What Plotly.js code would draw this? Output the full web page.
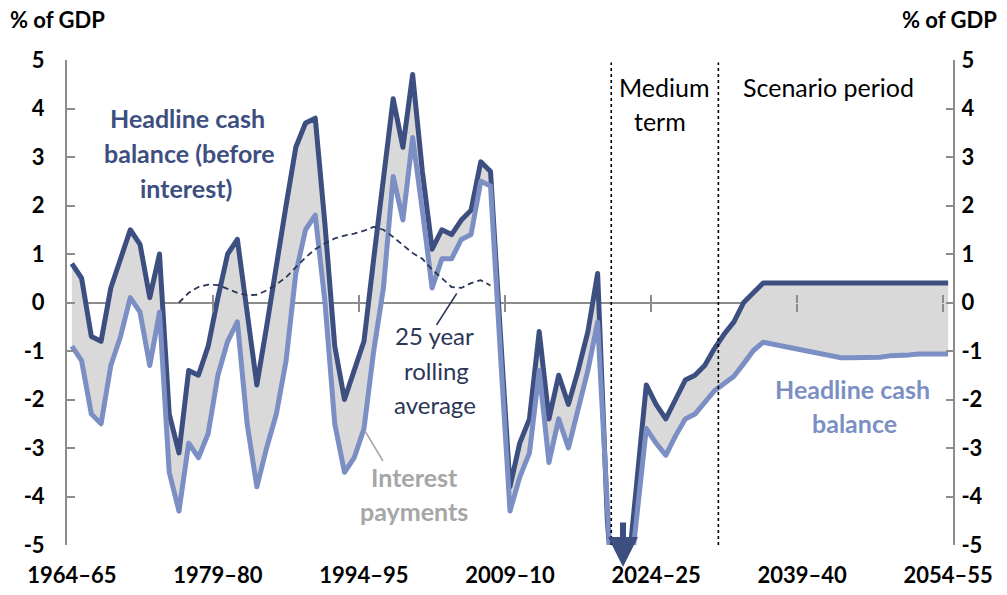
<!DOCTYPE html>
<html>
<head>
<meta charset="utf-8">
<script src="https://cdn.plot.ly/plotly-3.0.1.min.js"></script>
<style>
html,body{margin:0;padding:0;background:#fff;}
#chart{width:1007px;height:595px;}
.js-line{stroke-linejoin:round !important;}
</style>
</head>
<body>
<div id="chart"></div>
<script>
// Financial years 1964–65 ... 2054–55 (x = starting calendar year)
const years = Array.from({length: 91}, (_, i) => 1964 + i);

// Headline cash balance before interest (% of GDP)
const beforeInterest = [
  0.8, 0.5, -0.7, -0.8, 0.3, 0.9, 1.5, 1.2, 0.1, 1.0,
  -2.3, -3.1, -1.4, -1.5, -0.9, 0.1, 1.0, 1.3, -0.2, -1.7,
  -0.5, 0.8, 2.0, 3.2, 3.7, 3.8, 1.6, -0.9, -2.0, -1.4,
  -0.8, 0.9, 2.5, 4.2, 3.2, 4.7, 2.7, 1.1, 1.5, 1.4,
  1.7, 1.9, 2.9, 2.7, -0.6, -3.8, -2.9, -2.4, -0.6, -2.4,
  -1.5, -2.1, -1.4, -0.6, 0.6, -4.5, -7.0, -5.8, -3.75, -1.7,
  -2.1, -2.4, -2.0, -1.6, -1.5, -1.3, -0.95, -0.65, -0.4, 0.0,
  0.2, 0.4, 0.4, 0.4, 0.4, 0.4, 0.4, 0.4, 0.4, 0.4,
  0.4, 0.4, 0.4, 0.4, 0.4, 0.4, 0.4, 0.4, 0.4, 0.4,
  0.4
];

// Headline cash balance (% of GDP)
const headline = [
  -0.9, -1.2, -2.3, -2.5, -1.3, -0.7, 0.1, -0.2, -1.3, -0.2,
  -3.5, -4.3, -2.9, -3.2, -2.7, -1.5, -0.8, -0.4, -2.5, -3.8,
  -3.0, -2.3, -1.2, 0.6, 1.5, 1.8, 0.0, -2.5, -3.5, -3.2,
  -2.6, -1.0, 0.3, 2.6, 1.7, 3.4, 1.9, 0.3, 0.9, 0.9,
  1.3, 1.4, 2.5, 2.4, -1.0, -4.3, -3.6, -3.1, -1.4, -3.3,
  -2.4, -3.0, -2.2, -1.4, -0.4, -5.2, -8.0, -6.3, -4.5, -2.6,
  -2.9, -3.15, -2.75, -2.4, -2.3, -2.05, -1.82, -1.67, -1.52, -1.26,
  -0.99, -0.82, -0.86, -0.9, -0.94, -0.98, -1.02, -1.06, -1.1, -1.14,
  -1.14, -1.14, -1.14, -1.13, -1.1, -1.1, -1.08, -1.06, -1.06, -1.06,
  -1.06
];

// 25 year rolling average (before interest), 1975–76 ... 2007–08
const rollingYears = Array.from({length: 33}, (_, i) => 1975 + i);
const rollingAvg = [
  0.0, 0.2, 0.32, 0.37, 0.36, 0.28, 0.2, 0.15, 0.16, 0.25,
  0.37, 0.52, 0.72, 0.93, 1.1, 1.22, 1.32, 1.38, 1.42, 1.48,
  1.56, 1.5, 1.35, 1.18, 1.02, 0.9, 0.68, 0.5, 0.32, 0.3,
  0.4, 0.46, 0.35
];

const xTickVals = [1964, 1979, 1994, 2009, 2024, 2039, 2054];
const xTickText = ['1964–65', '1979–80', '1994–95', '2009–10', '2024–25', '2039–40', '2054–55'];
const zeroTickVals = [1978.5, 1993.5, 2008.5, 2023.5, 2038.5, 2053.5];
const yTickVals = [-5, -4, -3, -2, -1, 0, 1, 2, 3, 4, 5];
const yTickText = ['-5', '-4', '-3', '-2', '-1', '0', '1', '2', '3', '4', '5'];
const periodBreaks = [2019.4, 2030.4];

const DARK = '#3D4F80';
const LIGHT = '#7C8FC4';
const FILL = '#D9D9D9';
const AXIS = '#8C8C8C';
const NAVY = '#2B3658';
const GREY_TXT = '#A6A6A6';
const FONT = 'Lato, "Open Sans", sans-serif';

// pixel helpers for label placement
const L = 67, R = 953, T = 60, B = 545;
const X = px => 1963.5 + (px - L) / (R - L) * 91;
const Y = py => 5 - (py - T) / ((B - T) / 10);

const traces = [
  {x: years, y: beforeInterest, mode: 'lines', line: {color: DARK, width: 5}, hoverinfo: 'skip'},
  {x: years, y: headline, mode: 'lines', fill: 'tonexty', fillcolor: FILL,
   line: {color: LIGHT, width: 5}, hoverinfo: 'skip'},
  {x: rollingYears, y: rollingAvg, mode: 'lines', line: {color: NAVY, width: 1.8, dash: '6px,4px'}, hoverinfo: 'skip'},
  {x: [], y: [], xaxis: 'x2', yaxis: 'y', mode: 'lines', hoverinfo: 'skip'},
  {x: [], y: [], xaxis: 'x3', yaxis: 'y', mode: 'lines', hoverinfo: 'skip'},
  {x: [], y: [], xaxis: 'x', yaxis: 'y2', mode: 'lines', hoverinfo: 'skip'}
];

const bold = s => '<b>' + s + '</b>';

const zeroAxis = (dir) => ({
  overlaying: 'x', anchor: 'free', position: 0.5, range: [1963.5, 2054.5],
  tickvals: zeroTickVals, ticks: dir, ticklen: 8, tickwidth: 2, tickcolor: AXIS,
  showticklabels: false, showline: false, showgrid: false, zeroline: false
});

const txt = (px, py, text, size, color) => ({
  x: X(px), y: Y(py), xref: 'x', yref: 'y', text: text, showarrow: false,
  xanchor: 'center', yanchor: 'middle', font: {family: FONT, size: size, color: color}
});

const annotations = [
  txt(187, 118, bold('Headline cash'), 25, DARK),
  txt(189, 153, bold('balance (before'), 25, DARK),
  txt(186, 188, bold('interest)'), 25, DARK),
  txt(434, 335, '25 year', 24, NAVY),
  txt(436, 370, 'rolling', 24, NAVY),
  txt(435, 404, 'average', 24, NAVY),
  txt(414, 477, bold('Interest'), 25, GREY_TXT),
  txt(414, 511, bold('payments'), 25, GREY_TXT),
  txt(852, 389, bold('Headline cash'), 25, LIGHT),
  txt(854, 423, bold('balance'), 25, LIGHT),
  txt(664, 87, 'Medium', 25, '#000'),
  txt(660, 121, 'term', 25, '#000'),
  txt(828, 87, 'Scenario period', 25, '#000'),
  {xref: 'paper', yref: 'paper', x: (8 - L) / (R - L), y: (B - 19) / (B - T),
   xanchor: 'left', yanchor: 'middle', showarrow: false, text: bold('% of GDP'),
   font: {family: FONT, size: 22, color: '#000'}},
  {xref: 'paper', yref: 'paper', x: (999 - L) / (R - L), y: (B - 19) / (B - T),
   xanchor: 'right', yanchor: 'middle', showarrow: false, text: bold('% of GDP'),
   font: {family: FONT, size: 22, color: '#000'}},
  {x: X(623), y: (B - 567) / (B - T), xref: 'x', yref: 'paper', text: '', showarrow: true,
   ax: 0, ay: -46, arrowhead: 2, arrowsize: 1, arrowwidth: 6, arrowcolor: DARK, standoff: 0}
];

const shapes = periodBreaks.map(v => ({
  type: 'line', xref: 'x', yref: 'paper', x0: v, x1: v, y0: 0, y1: 0.995,
  line: {color: '#000', width: 1.6, dash: 'dot'}
}));
shapes.push({type: 'line', xref: 'x', yref: 'y', x0: X(456.7), y0: Y(293.5), x1: X(436.5), y1: Y(325),
  line: {color: NAVY, width: 1.5}});
shapes.push({type: 'line', xref: 'x', yref: 'y', x0: X(365), y0: Y(431), x1: X(383), y1: Y(461),
  line: {color: GREY_TXT, width: 1.5}});

const yAxisBase = {
  range: [-5, 5], tickvals: yTickVals, ticktext: yTickText.map(bold),
  ticks: 'inside', ticklen: 8, tickwidth: 2, tickcolor: AXIS,
  showline: true, linecolor: AXIS, linewidth: 2, showgrid: false,
  tickfont: {family: FONT, size: 22, color: '#000'}
};

const layout = {
  width: 1007, height: 595,
  margin: {l: L, r: 1007 - R, t: T, b: 595 - B},
  paper_bgcolor: '#fff', plot_bgcolor: 'rgba(0,0,0,0)',
  showlegend: false,
  font: {family: FONT, color: '#000'},
  xaxis: {
    range: [1963.5, 2054.5], tickvals: xTickVals, ticktext: xTickText.map(bold),
    ticks: '', showline: false, showgrid: false, zeroline: false,
    tickfont: {family: FONT, size: 22, color: '#000'}, ticklabelstandoff: 15
  },
  xaxis2: zeroAxis('outside'),
  xaxis3: zeroAxis('inside'),
  yaxis: Object.assign({}, yAxisBase, {
    zeroline: true, zerolinecolor: AXIS, zerolinewidth: 2, ticklabelstandoff: 16
  }),
  yaxis2: Object.assign({}, yAxisBase, {
    overlaying: 'y', side: 'right', ticklen: 7, zeroline: false, ticklabelstandoff: 2
  }),
  annotations: annotations,
  shapes: shapes
};

Plotly.newPlot('chart', traces, layout, {displayModeBar: false, staticPlot: true});
</script>
</body>
</html>
